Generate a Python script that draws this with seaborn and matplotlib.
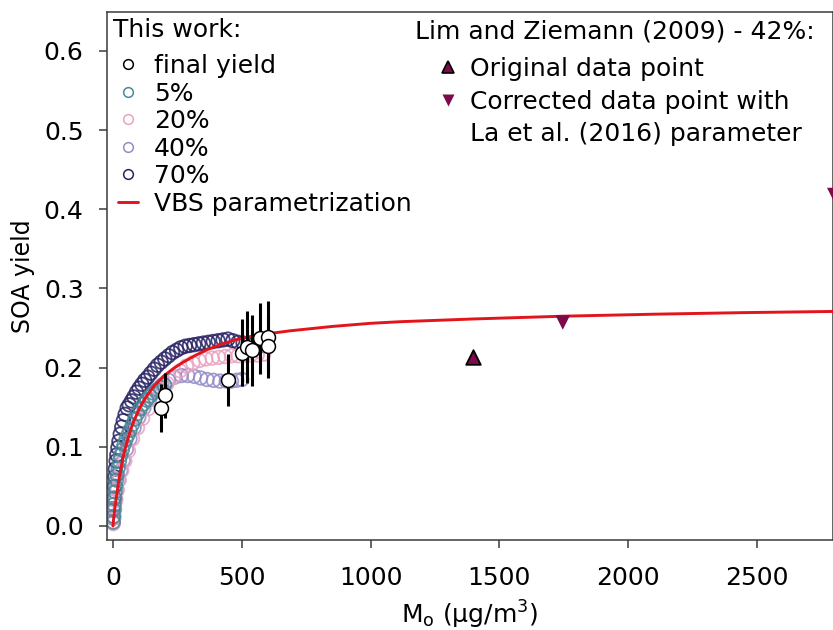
import matplotlib
matplotlib.use("Agg")
import matplotlib.pyplot as plt
import seaborn as sns
import numpy as np
import pandas as pd
from matplotlib.lines import Line2D
from matplotlib.ticker import FormatStrFormatter

# ---------------- data ----------------
# 70 % series
n70_mo = [1, 2, 3, 5, 7, 9, 12, 15, 19, 23, 28, 34, 40, 47, 55, 63, 72, 81, 91, 101,
          112, 123, 135, 147, 160, 173, 187, 201, 216, 231, 247, 263, 280, 297, 315,
          333, 351, 370, 389, 408, 427, 446, 465, 485, 505, 525, 545, 565, 585]
n70_y = [0.010, 0.022, 0.035, 0.050, 0.062, 0.072, 0.082, 0.090, 0.099, 0.107, 0.116,
         0.125, 0.133, 0.141, 0.149, 0.153, 0.158, 0.163, 0.169, 0.174, 0.179, 0.184,
         0.188, 0.193, 0.198, 0.203, 0.207, 0.211, 0.215, 0.219, 0.222, 0.225, 0.227,
         0.228, 0.229, 0.230, 0.231, 0.232, 0.233, 0.234, 0.235, 0.236, 0.234, 0.232,
         0.231, 0.230, 0.229, 0.228, 0.228]
# 5 % series
n5_mo = [1, 2, 3, 4, 6, 8, 10, 13, 16, 20, 25, 30, 36, 43, 50, 58, 66, 75, 85, 95,
         106, 118, 130, 143, 156, 170, 185, 200]
n5_y = [0.005, 0.012, 0.020, 0.027, 0.035, 0.043, 0.050, 0.058, 0.065, 0.073, 0.082,
        0.089, 0.096, 0.103, 0.109, 0.115, 0.121, 0.128, 0.135, 0.142, 0.148, 0.154,
        0.159, 0.164, 0.168, 0.172, 0.175, 0.178]
# 20 % series
n20_mo = [1, 3, 6, 10, 16, 24, 34, 46, 60, 76, 95, 115, 136, 160, 185, 210, 235, 260,
          285, 310, 335, 360, 385, 410, 435, 460, 485, 510, 535, 560, 585]
n20_y = [0.003, 0.010, 0.020, 0.032, 0.045, 0.058, 0.070, 0.082, 0.095, 0.110, 0.124,
         0.136, 0.148, 0.160, 0.172, 0.180, 0.188, 0.196, 0.202, 0.206, 0.209, 0.211,
         0.212, 0.213, 0.214, 0.215, 0.215, 0.216, 0.216, 0.216, 0.217]
# 40 % series
n40_mo = [1, 3, 6, 10, 15, 22, 30, 40, 52, 66, 82, 100, 120, 142, 165, 190, 215, 240,
          265, 290, 315, 340, 365, 390, 415, 440, 460, 480, 500]
n40_y = [0.004, 0.012, 0.022, 0.034, 0.046, 0.058, 0.070, 0.083, 0.097, 0.110, 0.124,
         0.137, 0.149, 0.160, 0.170, 0.178, 0.184, 0.188, 0.190, 0.190, 0.189, 0.187,
         0.185, 0.184, 0.183, 0.183, 0.183, 0.184, 0.185]
# final yields with uncertainty
fin_mo = [186, 202, 448, 500, 519, 538, 571, 603, 603]
fin_y = [0.149, 0.165, 0.184, 0.219, 0.226, 0.222, 0.237, 0.239, 0.227]
fin_err = [0.030, 0.028, 0.033, 0.042, 0.045, 0.045, 0.045, 0.045, 0.040]
# VBS parametrization curve
vbs_mo = [0, 2, 5, 8, 12, 20, 30, 40, 55, 66, 80, 105, 130, 160, 195, 235, 273, 320,
          364, 420, 467, 558, 687, 850, 1000, 1114, 1400, 1750, 2100, 2450, 2800]
vbs_y = [0.0, 0.008, 0.017, 0.025, 0.034, 0.052, 0.072, 0.088, 0.107, 0.119, 0.132,
         0.150, 0.164, 0.177, 0.189, 0.199, 0.207, 0.2155, 0.2225, 0.2295, 0.2345,
         0.241, 0.2465, 0.252, 0.256, 0.258, 0.2615, 0.265, 0.2675, 0.2695, 0.271]
# Lim and Ziemann (2009)
orig_mo = [1397]
orig_y = [0.213]
corr_mo = [1746, 2800]
corr_y = [0.257, 0.418]

series_names = ["70%", "40%", "20%", "5%"]
series_colors = {"5%": "#4a8898", "20%": "#eaa2c0", "40%": "#968cc8", "70%": "#282364"}
series_data = {"70%": (n70_mo, n70_y), "40%": (n40_mo, n40_y),
               "20%": (n20_mo, n20_y), "5%": (n5_mo, n5_y)}

# ---------------- style ----------------
sns.set_style("ticks")
plt.rcParams["font.family"] = ["DejaVu Sans"]
plt.rcParams["mathtext.fontset"] = "dejavusans"
plt.rcParams["text.color"] = "black"
plt.rcParams["axes.labelcolor"] = "black"
spine_col = "#3a3a3a"
red = "#e3141b"
maroon = "#7d0a4a"

fig = plt.figure(figsize=(8.33, 6.3), dpi=100)
ax = fig.add_axes([107 / 833, 90 / 630, 726 / 833, 528 / 630])

# coloured open circles
for name in series_names:
    mo, yy = series_data[name]
    col = series_colors[name]
    sns.scatterplot(x=mo, y=yy, ax=ax, marker="o", s=95, color=col,
                    linewidth=1.3, alpha=0.85, legend=False, zorder=2)
    coll = ax.collections[-1]
    coll.set_facecolor("none")
    coll.set_edgecolor(col)

# VBS curve
sns.lineplot(x=vbs_mo, y=vbs_y, ax=ax, color=red, lw=2.1, zorder=3,
             estimator=None, sort=True)

# final yields
ax.errorbar(fin_mo, fin_y, yerr=fin_err, fmt="none", ecolor="black",
            elinewidth=2.2, capsize=0, zorder=4)
sns.scatterplot(x=fin_mo, y=fin_y, ax=ax, marker="o", s=100, color="white",
                edgecolor="black", linewidth=1.1, legend=False, zorder=5)

# Lim & Ziemann points
sns.scatterplot(x=orig_mo, y=orig_y, ax=ax, marker="^", s=110, color=maroon,
                edgecolor="black", linewidth=1.3, legend=False, zorder=5)
sns.scatterplot(x=corr_mo, y=corr_y, ax=ax, marker="v", s=110, color=maroon,
                edgecolor="none", linewidth=0, legend=False, zorder=5,
                clip_on=False)

# axes
ax.set_xlim(-23.3, 2795)
ax.set_ylim(-0.0177, 0.6492)
ax.set_xticks([0, 500, 1000, 1500, 2000, 2500])
ax.set_yticks([0.0, 0.1, 0.2, 0.3, 0.4, 0.5, 0.6])
ax.yaxis.set_major_formatter(FormatStrFormatter("%.1f"))
for sp in ax.spines.values():
    sp.set_color(spine_col)
    sp.set_linewidth(1.1)
ax.tick_params(direction="out", length=5.8, width=1.1, color=spine_col,
               labelsize=18, labelcolor="black")
ax.tick_params(axis="x", pad=13)
ax.tick_params(axis="y", pad=11)

ax.set_xlabel(r"M$_\mathrm{o}$ (µg/m$^3$)", fontsize=18, labelpad=6)
ax.set_ylabel("SOA yield", fontsize=17)
ax.yaxis.set_label_coords(-0.1157, 0.5)
ax.yaxis.label.set_va("center")

# legends
ax.text(0.0083, 0.953, "This work:", transform=ax.transAxes, fontsize=18,
        ha="left", va="baseline")
ax.text(0.4242, 0.950, "Lim and Ziemann (2009) - 42%:", transform=ax.transAxes,
        fontsize=18, ha="left", va="baseline")

h1 = [Line2D([], [], ls="none", marker="o", ms=7, mfc="white", mec="black", mew=1.1)]
for name in ["5%", "20%", "40%", "70%"]:
    h1.append(Line2D([], [], ls="none", marker="o", ms=7, mfc="none",
                     mec=series_colors[name], mew=1.1))
h1.append(Line2D([], [], color=red, lw=2.1))
l1 = ["final yield", "5%", "20%", "40%", "70%", "VBS parametrization"]
leg1 = ax.legend(h1, l1, loc="upper left", bbox_to_anchor=(0.0152, 0.920),
                 frameon=False, fontsize=18, handlelength=0.8, handletextpad=0.64,
                 labelspacing=0.14, borderpad=0, borderaxespad=0)
ax.add_artist(leg1)

h2 = [Line2D([], [], ls="none", marker="^", ms=8, mfc=maroon, mec="black", mew=1.2),
      Line2D([], [], ls="none", marker="v", ms=8, mfc=maroon, mec="none"),
      Line2D([], [], ls="none")]
l2 = ["Original data point", "Corrected data point with", "La et al. (2016) parameter"]
leg2 = ax.legend(h2, l2, loc="upper left", bbox_to_anchor=(0.456, 0.9147),
                 frameon=False, fontsize=18, handlelength=0.8, handletextpad=0.48,
                 labelspacing=0.34, borderpad=0, borderaxespad=0)

fig.savefig("out.png", dpi=100)
